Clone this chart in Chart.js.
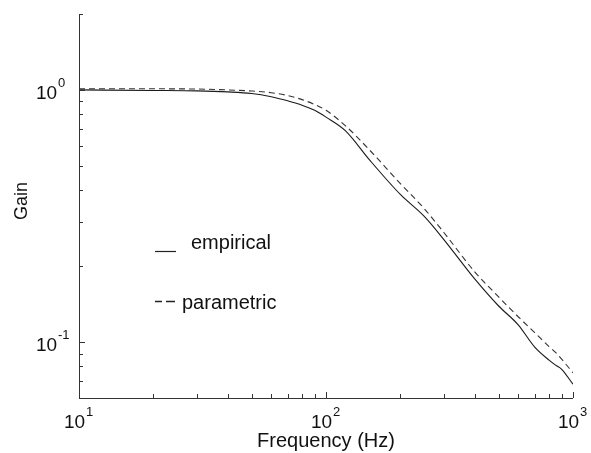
<!DOCTYPE html>
<html>
<head>
<meta charset="utf-8">
<script src="https://cdn.jsdelivr.net/npm/chart.js@4"></script>
<style>
  html, body { margin: 0; padding: 0; background: #fff; }
  #wrap { width: 591px; height: 453px; position: relative; }
</style>
</head>
<body>
<div id="wrap"><canvas id="myChart"></canvas></div>
<script>
// data (gain vs frequency, log-log)
var freqHz = [10, 20, 30, 40, 50, 60, 70, 80, 90, 100, 120, 150, 200, 250, 300, 400, 500, 600, 700, 800, 850, 900, 1000];
var empiricalGain = [1.0, 0.995, 0.991, 0.982, 0.968, 0.94, 0.905, 0.87, 0.83, 0.78, 0.688, 0.528, 0.385, 0.315, 0.255, 0.178, 0.139, 0.117, 0.0955, 0.0848, 0.081, 0.078, 0.068];
var parametricGain = [1.01, 1.01, 1.008, 1.0, 0.99, 0.975, 0.95, 0.915, 0.875, 0.83, 0.72, 0.578, 0.425, 0.338, 0.272, 0.19, 0.151, 0.126, 0.109, 0.096, 0.091, 0.0855, 0.0755];
var xTickValues = [10, 100, 1000];
var xTickExp = ["1", "2", "3"];
var yTickValues = [0.1, 1];
var yTickExp = ["-1", "0"];
var legendLabels = ["empirical", "parametric"];

function toPoints(ys) {
  return freqHz.map(function (f, i) { return { x: f, y: ys[i] }; });
}

var FONT = "'Liberation Sans', Arial, Helvetica, sans-serif";
var INK = "#222";

// axes, inward ticks, labels and the hand-made legend
var axesPlugin = {
  id: "matlabAxes",
  beforeDraw: function (chart) {
    var c = chart.ctx;
    c.save();
    c.fillStyle = "#fff";
    c.fillRect(0, 0, chart.width, chart.height);
    c.restore();
  },
  afterDraw: function (chart) {
    var c = chart.ctx;
    var xs = chart.scales.x, ys = chart.scales.y;
    var a = chart.chartArea;
    c.save();
    c.strokeStyle = "#333";
    c.lineWidth = 1;

    // left + bottom axis lines
    c.beginPath();
    c.moveTo(a.left + 0.5, a.top);
    c.lineTo(a.left + 0.5, a.bottom + 0.5);
    c.lineTo(a.right, a.bottom + 0.5);
    c.stroke();

    // x ticks (major + minor), pointing up
    for (var d = 10; d <= 1000; d *= 10) {
      for (var m = 1; m <= 9; m++) {
        var v = d * m;
        if (v > 1000) break;
        var px = Math.round(xs.getPixelForValue(v)) + 0.5;
        var len = m === 1 ? 6 : 4;
        c.beginPath();
        c.moveTo(px, a.bottom);
        c.lineTo(px, a.bottom - len);
        c.stroke();
      }
    }
    // y ticks, pointing right
    var yDecades = [0.01, 0.1, 1];
    yDecades.forEach(function (d) {
      for (var m = 1; m <= 9; m++) {
        var v = d * m;
        if (v < ys.min || v > ys.max) continue;
        var py = Math.round(ys.getPixelForValue(v)) + 0.5;
        var len = m === 1 ? 6 : 4;
        c.beginPath();
        c.moveTo(a.left, py);
        c.lineTo(a.left + len, py);
        c.stroke();
      }
    });

    c.fillStyle = "#111";
    c.textBaseline = "alphabetic";
    c.textAlign = "left";

    // x tick labels 10^n
    xTickValues.forEach(function (v, i) {
      var px = xs.getPixelForValue(v);
      c.font = "19px " + FONT;
      c.fillText("10", px - 15, 428);
      c.font = "13px " + FONT;
      c.fillText(xTickExp[i], px + 7, 416);
    });
    // y tick labels 10^n
    yTickValues.forEach(function (v, i) {
      var py = ys.getPixelForValue(v);
      c.font = "19px " + FONT;
      c.fillText("10", 36, py + 9);
      c.font = "13px " + FONT;
      c.fillText(yTickExp[i], 58, py - 3);
    });

    // axis titles
    c.font = "20px " + FONT;
    c.textAlign = "center";
    c.fillText("Frequency (Hz)", 326, 447);
    c.save();
    c.translate(22, 201);
    c.rotate(-Math.PI / 2);
    c.font = "18px " + FONT;
    c.textBaseline = "middle";
    c.fillText("Gain", 0, 0);
    c.restore();

    // legend
    c.textAlign = "left";
    c.font = "20px " + FONT;
    c.strokeStyle = INK;
    c.lineWidth = 1.2;
    c.beginPath();
    c.moveTo(155, 251.5);
    c.lineTo(176, 251.5);
    c.stroke();
    c.fillText(legendLabels[0], 191, 249);
    c.lineWidth = 1.6;
    c.beginPath();
    c.moveTo(155, 301.5);
    c.lineTo(162, 301.5);
    c.moveTo(166, 301.5);
    c.lineTo(175, 301.5);
    c.stroke();
    c.fillText(legendLabels[1], 182, 309);
    c.restore();
  }
};

var ctx = document.getElementById("myChart").getContext("2d");
var chart = new Chart(ctx, {
  type: "scatter",
  data: {
    datasets: [
      {
        label: legendLabels[0],
        data: toPoints(empiricalGain),
        showLine: true,
        borderColor: "#1a1a1a",
        borderWidth: 1.1,
        pointRadius: 0,
        cubicInterpolationMode: "monotone",
      },
      {
        label: legendLabels[1],
        data: toPoints(parametricGain),
        showLine: true,
        borderColor: "#333",
        borderWidth: 1.1,
        borderDash: [6, 4],
        pointRadius: 0,
        cubicInterpolationMode: "monotone",
      },
    ],
  },
  options: {
    responsive: true,
    maintainAspectRatio: false,
    animation: false,
    layout: { padding: { left: 79, right: 18, top: 14, bottom: 55 } },
    plugins: { legend: { display: false }, tooltip: { enabled: false } },
    scales: {
      x: { type: "logarithmic", min: 10, max: 1000, display: false },
      y: { type: "logarithmic", min: 0.06, max: 2, display: false },
    },
  },
  plugins: [axesPlugin],
});
</script>
</body>
</html>
